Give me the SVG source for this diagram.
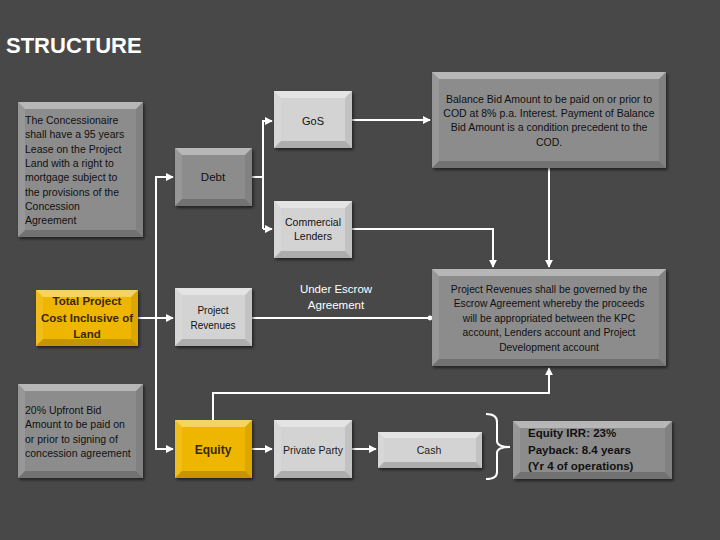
<svg xmlns="http://www.w3.org/2000/svg" width="720" height="540" viewBox="0 0 720 540">
<style>
text{font-family:"Liberation Sans",Arial,sans-serif;}
.t{font-size:10.5px;fill:#111;}
.w{font-size:11.5px;fill:#fff;}
.b{font-weight:bold;}
.c{text-anchor:middle;}
.ln{fill:none;stroke:#fff;stroke-width:2;}
.g{fill:#8c8c8c;filter:url(#sh);}
.l{fill:#d3d3d3;filter:url(#sh);}
.y{fill:#efb600;filter:url(#sh);}
.hi{fill:#fff;fill-opacity:.38;}
.lo{fill:#000;fill-opacity:.18;}
.sl{fill:#fff;fill-opacity:.1;}
.sr{fill:#000;fill-opacity:.08;}
</style>
<defs>
<filter id="sh" x="-10%" y="-10%" width="130%" height="130%"><feDropShadow dx="1.5" dy="2" stdDeviation="1.5" flood-color="#000" flood-opacity="0.55"/></filter>
<marker id="ar" viewBox="0 0 10 10" refX="9" refY="5" markerWidth="4" markerHeight="4" orient="auto"><path d="M0,0 L10,5 L0,10 z" fill="#fff"/></marker>
<marker id="dt" viewBox="0 0 10 10" refX="5" refY="5" markerWidth="3" markerHeight="3"><circle cx="5" cy="5" r="4" fill="#fff"/></marker>
</defs>
<rect width="720" height="540" fill="#484848"/>
<text x="6" y="53" class="b" style="font-size:22px;fill:#fff">STRUCTURE</text>

<g id="connectors">
<path class="ln" d="M156,449 L156,177 L173,177" marker-end="url(#ar)"/>
<path class="ln" d="M138,318 L173,318" marker-end="url(#ar)"/>
<path class="ln" d="M156,440 L156,449 L173,449" marker-end="url(#ar)"/>
<path class="ln" d="M252,177 L263,177"/>
<path class="ln" d="M263,229 L263,121 L272,121" marker-end="url(#ar)"/>
<path class="ln" d="M263,229 L272,229" marker-end="url(#ar)"/>
<path class="ln" d="M352,120 L430,120" marker-end="url(#ar)"/>
<path class="ln" d="M352,229 L493,229 L493,267" marker-end="url(#ar)"/>
<path class="ln" d="M549,168 L549,267" marker-end="url(#ar)"/>
<path class="ln" d="M252,318 L430,318" marker-end="url(#dt)"/>
<path class="ln" d="M213,420 L213,393 L549,393 L549,368" marker-end="url(#ar)"/>
<path class="ln" d="M252,449 L272,449" marker-end="url(#ar)"/>
<path class="ln" d="M352,449 L376,449" marker-end="url(#ar)"/>
<path class="ln" stroke-width="1.5" d="M486,414 Q497,414 497,422 L497,441 Q497,447 510,447 Q497,447 497,453 L497,472 Q497,479 486,479"/>
</g>

<g id="concessionaire">
<rect class="g" x="18" y="102" width="125" height="135"/>
<polygon class="hi" points="18,102 143,102 136,109 25,109"/><polygon class="lo" points="18,237 143,237 136,230 25,230"/><polygon class="sl" points="18,102 25,109 25,230 18,237"/><polygon class="sr" points="143,102 136,109 136,230 143,237"/>
<text class="t"><tspan x="25" y="124">The Concessionaire</tspan><tspan x="25" y="138">shall have a 95 years</tspan><tspan x="25" y="153">Lease on the Project</tspan><tspan x="25" y="167">Land with a right to</tspan><tspan x="25" y="181">mortgage subject to</tspan><tspan x="25" y="196">the provisions of the</tspan><tspan x="25" y="210">Concession</tspan><tspan x="25" y="224">Agreement</tspan></text>
</g>

<g id="debt">
<rect class="g" x="175" y="148" width="77" height="58"/>
<polygon class="hi" points="175,148 252,148 245,155 182,155"/><polygon class="lo" points="175,206 252,206 245,199 182,199"/><polygon class="sl" points="175,148 182,155 182,199 175,206"/><polygon class="sr" points="252,148 245,155 245,199 252,206"/>
<text class="t c" x="213" y="181" style="font-size:11.5px">Debt</text>
</g>

<g id="gos">
<rect class="l" x="274" y="91" width="78" height="57"/>
<polygon class="hi" points="274,91 352,91 345,98 281,98"/><polygon class="lo" points="274,148 352,148 345,141 281,141"/><polygon class="sl" points="274,91 281,98 281,141 274,148"/><polygon class="sr" points="352,91 345,98 345,141 352,148"/>
<text class="t c" x="313" y="125" style="font-size:11px">GoS</text>
</g>

<g id="commercial-lenders">
<rect class="l" x="274" y="201" width="78" height="57"/>
<polygon class="hi" points="274,201 352,201 345,208 281,208"/><polygon class="lo" points="274,258 352,258 345,251 281,251"/><polygon class="sl" points="274,201 281,208 281,251 274,258"/><polygon class="sr" points="352,201 345,208 345,251 352,258"/>
<text class="t c" style="font-size:10.5px"><tspan x="313" y="226">Commercial</tspan><tspan x="313" y="240">Lenders</tspan></text>
</g>

<g id="balance-bid">
<rect class="g" x="432" y="72" width="234" height="96"/>
<polygon class="hi" points="432,72 666,72 659,79 439,79"/><polygon class="lo" points="432,168 666,168 659,161 439,161"/><polygon class="sl" points="432,72 439,79 439,161 432,168"/><polygon class="sr" points="666,72 659,79 659,161 666,168"/>
<text class="t c"><tspan x="549" y="103">Balance Bid Amount to be paid on or prior to</tspan><tspan x="549" y="117">COD at 8% p.a. Interest. Payment of Balance</tspan><tspan x="549" y="131">Bid Amount is a condition precedent to the</tspan><tspan x="549" y="146">COD.</tspan></text>
</g>

<g id="total-project-cost">
<rect class="y" x="36" y="290" width="102" height="56"/>
<polygon class="hi" points="36,290 138,290 131,297 43,297"/><polygon class="lo" points="36,346 138,346 131,339 43,339"/><polygon class="sl" points="36,290 43,297 43,339 36,346"/><polygon class="sr" points="138,290 131,297 131,339 138,346"/>
<text class="b c" style="font-size:11.5px;fill:#3a2800"><tspan x="87" y="305">Total Project</tspan><tspan x="87" y="322">Cost Inclusive of</tspan><tspan x="87" y="338">Land</tspan></text>
</g>

<g id="project-revenues">
<rect class="l" x="175" y="288" width="77" height="58"/>
<polygon class="hi" points="175,288 252,288 245,295 182,295"/><polygon class="lo" points="175,346 252,346 245,339 182,339"/><polygon class="sl" points="175,288 182,295 182,339 175,346"/><polygon class="sr" points="252,288 245,295 245,339 252,346"/>
<text class="t c" style="font-size:10px"><tspan x="213" y="314">Project</tspan><tspan x="213" y="329">Revenues</tspan></text>
</g>

<g id="escrow-label">
<text class="w c"><tspan x="336" y="293">Under Escrow</tspan><tspan x="336" y="309">Agreement</tspan></text>
</g>

<g id="escrow-box">
<rect class="g" x="432" y="269" width="234" height="97"/>
<polygon class="hi" points="432,269 666,269 659,276 439,276"/><polygon class="lo" points="432,366 666,366 659,359 439,359"/><polygon class="sl" points="432,269 439,276 439,359 432,366"/><polygon class="sr" points="666,269 659,276 659,359 666,366"/>
<text class="t c" style="font-size:10.3px"><tspan x="549" y="293">Project Revenues shall be governed by the</tspan><tspan x="549" y="307">Escrow Agreement whereby the proceeds</tspan><tspan x="549" y="322">will be appropriated between the KPC</tspan><tspan x="549" y="336">account, Lenders account and Project</tspan><tspan x="549" y="351">Development account</tspan></text>
</g>

<g id="upfront-bid">
<rect class="g" x="18" y="384" width="125" height="94"/>
<polygon class="hi" points="18,384 143,384 136,391 25,391"/><polygon class="lo" points="18,478 143,478 136,471 25,471"/><polygon class="sl" points="18,384 25,391 25,471 18,478"/><polygon class="sr" points="143,384 136,391 136,471 143,478"/>
<text class="t"><tspan x="25" y="414">20% Upfront Bid</tspan><tspan x="25" y="428">Amount to be paid on</tspan><tspan x="25" y="443">or prior to signing of</tspan><tspan x="25" y="457">concession agreement</tspan></text>
</g>

<g id="equity">
<rect class="y" x="175" y="420" width="77" height="58"/>
<polygon class="hi" points="175,420 252,420 245,427 182,427"/><polygon class="lo" points="175,478 252,478 245,471 182,471"/><polygon class="sl" points="175,420 182,427 182,471 175,478"/><polygon class="sr" points="252,420 245,427 245,471 252,478"/>
<text class="b c" x="213" y="454" style="font-size:12px;fill:#3a2800">Equity</text>
</g>

<g id="private-party">
<rect class="l" x="274" y="420" width="78" height="58"/>
<polygon class="hi" points="274,420 352,420 345,427 281,427"/><polygon class="lo" points="274,478 352,478 345,471 281,471"/><polygon class="sl" points="274,420 281,427 281,471 274,478"/><polygon class="sr" points="352,420 345,427 345,471 352,478"/>
<text class="t c" x="313" y="454" style="font-size:10.5px;fill:#222">Private Party</text>
</g>

<g id="cash">
<rect class="l" x="378" y="432" width="104" height="36"/>
<polygon class="hi" points="378,432 482,432 476,438 384,438"/><polygon class="lo" points="378,468 482,468 476,462 384,462"/><polygon class="sl" points="378,432 384,438 384,462 378,468"/><polygon class="sr" points="482,432 476,438 476,462 482,468"/>
<text class="t c" x="429" y="454" style="fill:#222">Cash</text>
</g>

<g id="equity-irr">
<rect class="g" x="513" y="421" width="159" height="58"/>
<polygon class="hi" points="513,421 672,421 665,428 520,428"/><polygon class="lo" points="513,479 672,479 665,472 520,472"/><polygon class="sl" points="513,421 520,428 520,472 513,479"/><polygon class="sr" points="672,421 665,428 665,472 672,479"/>
<text class="t b" style="font-size:11.5px"><tspan x="528" y="437">Equity IRR: 23%</tspan><tspan x="528" y="454">Payback: 8.4 years</tspan><tspan x="528" y="470">(Yr 4 of operations)</tspan></text>
</g>
</svg>
